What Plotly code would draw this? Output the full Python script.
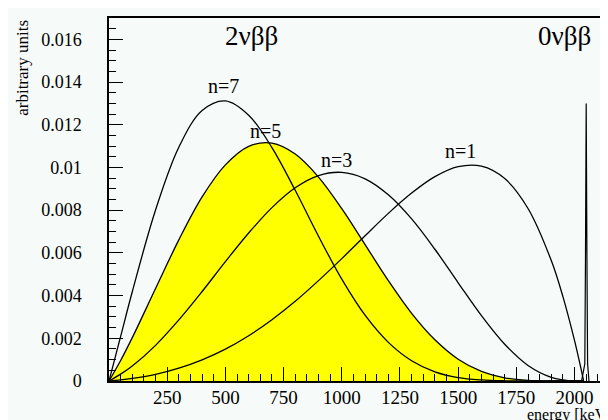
import plotly.graph_objects as go

# ---- data ----
energy_keV = [0, 50, 100, 200, 300, 400, 500, 600, 700, 800, 900, 1000, 1100, 1200,
              1300, 1400, 1500, 1600, 1700, 1800, 1900, 1950, 2000, 2020, 2039]
n1 = [0, 0.00005, 0.00012, 0.00031, 0.0006, 0.00099, 0.00149, 0.00212, 0.00287, 0.00373,
      0.0047, 0.00573, 0.0068, 0.00785, 0.0088, 0.00957, 0.01004, 0.01006, 0.00948,
      0.00808, 0.00564, 0.00395, 0.00189, 0.00095, 0]
n3 = [0, 0.00032, 0.0007, 0.00167, 0.00286, 0.00419, 0.00559, 0.00693, 0.00812, 0.00905,
      0.00962, 0.00977, 0.00947, 0.00872, 0.00759, 0.00617, 0.0046, 0.00306, 0.00172,
      0.00073, 0.00017, 0.00005, 0, 0, 0]
n5 = [0, 0.00096, 0.00203, 0.00433, 0.00661, 0.00862, 0.01012, 0.01099, 0.01114, 0.01063,
      0.00955, 0.00807, 0.00639, 0.0047, 0.00317, 0.00193, 0.00102, 0.00045, 0.00015,
      0.00003, 0, 0, 0, 0, 0]
n7 = [0, 0.00209, 0.00418, 0.00801, 0.01095, 0.01267, 0.01312, 0.01245, 0.01093, 0.00893,
      0.00678, 0.00477, 0.00308, 0.00181, 0.00095, 0.00043, 0.00016, 0.00005, 0.00001,
      0, 0, 0, 0, 0, 0]

peak_energy = [2030, 2044, 2047, 2050, 2053, 2056, 2062]
peak_value = [0, 0.0008, 0.006, 0.0130, 0.006, 0.0008, 0]

x_tick_vals = [250, 500, 750, 1000, 1250, 1500, 1750, 2000]
x_tick_text = ["250", "500", "750", "1000", "1250", "1500", "1750", "2000"]
y_tick_vals = [0, 0.002, 0.004, 0.006, 0.008, 0.01, 0.012, 0.014, 0.016]
y_tick_text = ["0", "0.002", "0.004", "0.006", "0.008", "0.01", "0.012", "0.014", "0.016"]

curve_labels = [("n=7", 490, 0.0138), ("n=5", 674, 0.0117),
                ("n=3", 979, 0.01035), ("n=1", 1512, 0.01077)]

BG = "#f6faf8"
FONT = "Liberation Serif, Times New Roman, DejaVu Serif, serif"

fig = go.Figure()

fig.add_trace(go.Scatter(x=energy_keV, y=n5, mode="lines", fill="tozeroy",
                         fillcolor="#ffff00", line=dict(color="black", width=1.3, shape="spline"),
                         hoverinfo="skip"))
for series in (n7, n3, n1):
    fig.add_trace(go.Scatter(x=energy_keV, y=series, mode="lines",
                             line=dict(color="black", width=1.3, shape="spline"),
                             hoverinfo="skip"))
fig.add_trace(go.Scatter(x=peak_energy, y=peak_value, mode="lines",
                         line=dict(color="black", width=1.2), hoverinfo="skip"))

for txt, xv, yv in curve_labels:
    fig.add_annotation(x=xv, y=yv, text=txt, showarrow=False,
                       font=dict(family=FONT, size=20, color="black"))

fig.add_annotation(x=614, y=0.01615, text="2νββ", showarrow=False,
                   font=dict(family=FONT, size=27, color="black"))
fig.add_annotation(x=1955, y=0.01615, text="0νββ", showarrow=False,
                   font=dict(family=FONT, size=27, color="black"))

fig.add_annotation(xref="paper", yref="paper", x=0.997, y=-0.064, xanchor="right", yanchor="top",
                   text="energy [keV]", showarrow=False,
                   font=dict(family=FONT, size=16, color="black"))
fig.add_annotation(xref="paper", yref="paper", x=-0.172, y=1.0, xanchor="center", yanchor="top",
                   text="arbitrary units", textangle=-90, showarrow=False,
                   font=dict(family=FONT, size=17, color="black"))

fig.update_layout(
    width=608, height=420,
    margin=dict(l=101, r=0, t=10, b=47),
    paper_bgcolor=BG, plot_bgcolor=BG,
    showlegend=False,
    font=dict(family=FONT, size=19, color="black"),
)
fig.update_xaxes(range=[0, 2178], showgrid=False, zeroline=False,
                 showline=True, linecolor="black", linewidth=1.5, mirror=True,
                 ticks="inside", ticklen=14, tickwidth=1, tickcolor="black",
                 tickvals=x_tick_vals, ticktext=x_tick_text, ticklabelstandoff=-2,
                 minor=dict(dtick=50, tick0=0, ticks="inside", ticklen=7, tickcolor="black"),
                 tickfont=dict(family=FONT, size=19))
fig.update_yaxes(range=[0, 0.017], showgrid=False, zeroline=False,
                 showline=True, linecolor="black", linewidth=1.5, mirror=False,
                 ticks="inside", ticklen=14, tickwidth=1, tickcolor="black",
                 tickvals=y_tick_vals, ticktext=y_tick_text, ticklabelstandoff=22,
                 minor=dict(dtick=0.0005, tick0=0, ticks="inside", ticklen=7, tickcolor="black"),
                 tickfont=dict(family=FONT, size=18))

fig.write_html("out.html")
